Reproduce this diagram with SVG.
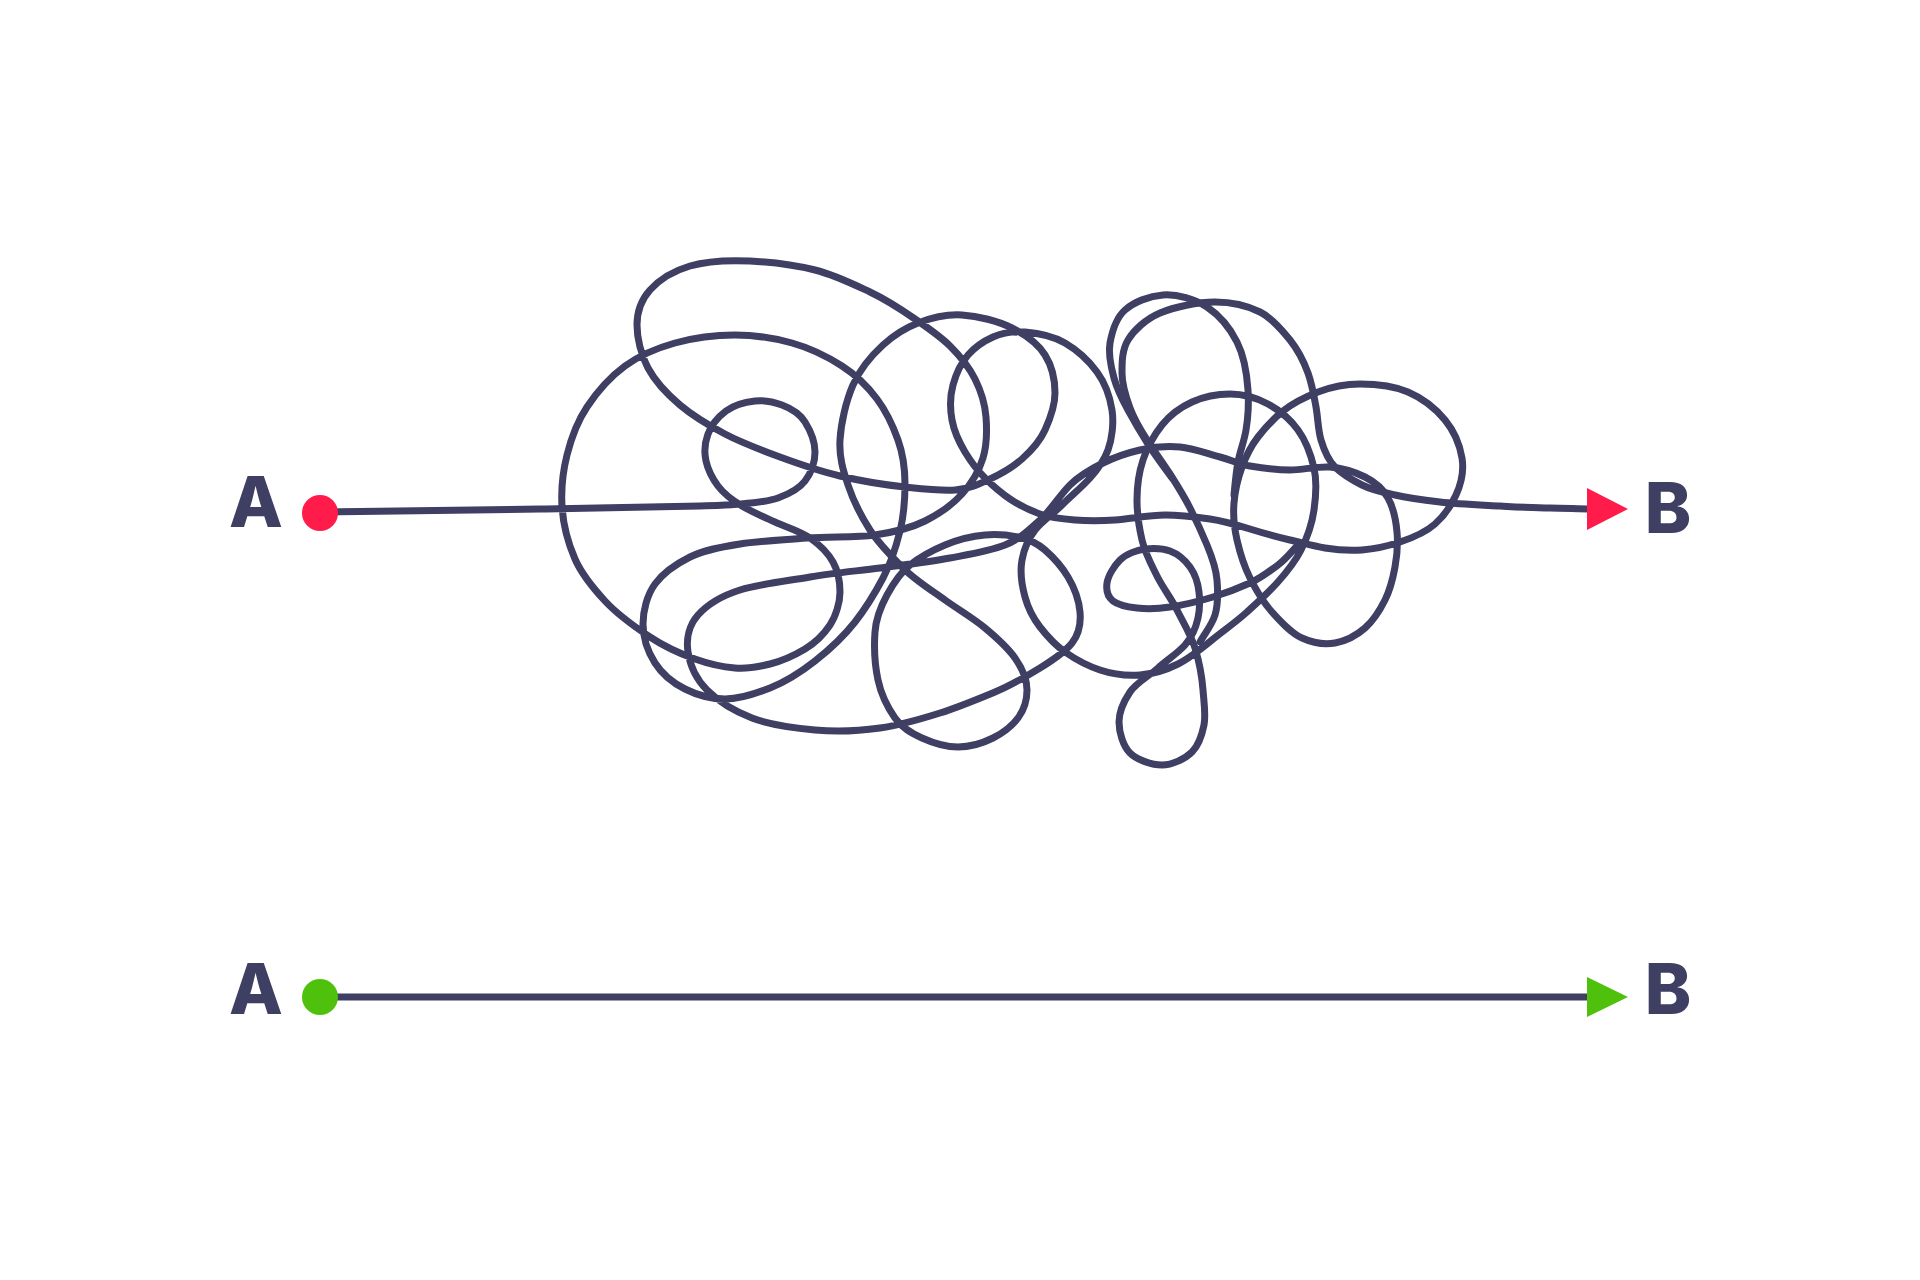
<svg xmlns="http://www.w3.org/2000/svg" width="1920" height="1280" viewBox="0 0 1920 1280">
<style>
.bg{fill:#ffffff}
.lbl{font-family:Inter,"Liberation Sans",sans-serif;font-weight:800;font-size:70px;fill:#3f3e63;text-anchor:middle}
.wire{fill:none;stroke:#3f3e63;stroke-width:7;stroke-linecap:round;stroke-linejoin:round}
.red{fill:#ff1c4a}
.green{fill:#4fc10d}
</style>
<rect class="bg" x="0" y="0" width="1920" height="1280"/>
<g id="connectors">
<path id="tangle" class="wire" d="M320,512 C393,511 477,510 540,509 S667,507 700,506 S727,505 740,504 S767,502 778,498 S799,489 805,481 S815,462 815,452 S810,430 805,422 S790,408 782,405 S764,400 755,401 S734,405 726,411 S711,426 708,434 S704,452 706,461 S712,478 718,486 S732,500 742,506 S764,517 775,522 S800,531 810,538 S828,553 833,562 S840,582 840,592 S836,616 830,625 S815,643 805,649 S782,661 770,664 S747,669 735,668 S709,664 695,659 S665,647 650,637 S617,614 605,601 S582,575 575,559 S563,523 562,506 S563,471 567,455 S577,422 587,407 S610,377 625,366 S657,348 675,343 S716,335 735,335 S774,338 792,343 S828,357 842,366 S868,387 877,399 S893,426 898,440 S905,469 905,484 S904,515 900,531 S891,563 883,578 S866,608 855,622 S829,650 815,661 S785,682 770,688 S739,699 725,699 S697,695 685,689 S662,674 655,663 S643,637 643,624 S647,595 655,584 S676,564 690,557 S721,547 740,544 S785,540 807,538 S855,538 875,535 S911,528 925,521 S952,505 962,494 S979,471 983,458 S987,430 986,417 S981,391 975,379 S960,356 950,346 S928,328 915,319 S887,300 870,292 S835,275 815,270 S771,262 750,261 S707,261 690,266 S659,280 650,290 S637,312 637,325 S641,355 648,368 S667,394 680,405 S708,425 725,434 S761,450 780,457 S819,471 840,476 S886,485 905,487 S941,491 955,490 S979,484 990,479 S1013,467 1022,459 S1040,441 1045,430 S1055,406 1055,393 S1052,366 1045,355 S1026,335 1012,328 S978,316 962,315 S931,318 918,323 S894,335 883,345 S860,369 853,385 S841,423 840,440 S843,470 848,485 S861,516 870,530 S891,556 903,568 S931,590 945,600 S973,618 985,628 S1008,648 1015,658 S1027,680 1027,690 S1024,710 1018,718 S1003,733 993,738 S970,747 958,747 S933,743 922,738 S902,728 895,718 S881,694 878,680 S874,646 875,632 S881,606 887,595 S900,573 910,565 S933,550 945,545 S973,536 985,535 S1008,535 1018,537 S1037,543 1045,550 S1062,567 1068,577 S1079,601 1080,612 S1079,634 1072,643 S1053,660 1040,668 S1012,685 995,692 S959,707 940,713 S901,725 880,728 S836,732 815,730 S770,725 752,718 S718,701 707,690 S690,665 688,652 S689,625 698,615 S721,596 740,590 S787,581 810,577 S857,571 880,568 S929,562 950,558 S990,551 1005,545 S1029,530 1040,520 S1060,495 1070,485 S1091,469 1103,463 S1127,453 1140,450 S1167,446 1180,447 S1208,454 1220,457 S1238,464 1250,466 S1277,470 1290,470 S1318,466 1330,467 S1355,472 1365,477 S1383,489 1388,498 S1396,521 1397,532 S1397,556 1395,567 S1390,590 1385,600 S1373,621 1365,628 S1346,641 1335,643 S1313,643 1302,638 S1281,622 1272,612 S1256,590 1250,578 S1240,553 1237,540 S1233,515 1234,503 S1238,478 1242,467 S1251,446 1258,437 S1273,419 1283,411 S1305,397 1318,392 S1345,384 1360,384 S1394,386 1408,392 S1436,409 1445,420 S1460,446 1462,458 S1461,484 1456,495 S1444,516 1435,524 S1412,538 1400,542 S1375,549 1362,550 S1337,550 1325,548 S1303,543 1290,540 S1263,533 1250,529 S1224,521 1210,519 S1181,515 1165,515 S1130,519 1115,520 S1088,521 1075,520 S1051,518 1040,514 S1019,505 1010,499 S993,486 985,478 S971,462 965,452 S954,431 952,420 S950,396 953,385 S961,363 968,355 S984,341 993,337 S1013,331 1025,332 S1053,336 1065,343 S1089,361 1097,372 S1110,397 1112,410 S1112,439 1108,450 S1098,469 1090,478 S1071,496 1062,505 S1042,521 1035,530 S1024,549 1022,560 S1022,586 1025,597 S1033,618 1040,627 S1055,645 1065,652 S1088,666 1100,670 S1127,676 1140,675 S1166,670 1178,664 S1201,649 1212,640 S1236,622 1247,612 S1268,593 1277,583 S1295,562 1301,550 S1312,524 1314,510 S1317,481 1314,468 S1306,441 1298,430 S1279,410 1268,404 S1243,394 1230,394 S1203,397 1192,402 S1170,415 1162,425 S1147,448 1143,460 S1137,487 1137,500 S1139,527 1142,540 S1151,564 1157,576 S1171,598 1177,610 S1191,635 1195,648 S1202,677 1203,690 S1206,715 1204,725 S1199,745 1192,752 S1172,765 1162,765 S1137,760 1130,753 S1119,732 1119,722 S1124,701 1130,692 S1149,676 1158,668 S1178,653 1185,645 S1196,627 1198,618 S1200,601 1199,592 S1195,574 1190,567 S1178,554 1170,551 S1153,548 1145,549 S1126,554 1120,560 S1108,576 1107,583 S1108,597 1113,601 S1128,607 1137,608 S1157,609 1170,607 S1200,601 1213,597 S1239,588 1250,583 S1270,571 1278,565 S1291,552 1298,545"/>
<path id="tangle-exit" class="wire" d="M1200,642 C1205,633 1212,625 1215,615 S1218,592 1217,580 S1212,557 1207,545 S1196,520 1190,508 S1177,485 1170,474 S1154,451 1147,440 S1134,419 1130,408 S1122,384 1122,373 S1122,350 1128,340 S1146,319 1160,313 S1198,302 1215,302 S1248,306 1260,312 S1282,330 1290,340 S1304,362 1308,373 S1314,396 1316,407 S1318,430 1321,440 S1328,460 1335,467 S1352,480 1362,485 S1382,492 1395,495 S1423,500 1440,502 S1482,505 1500,506 S1535,508 1550,508 S1578,509 1592,509"/>
<path id="tangle-loop" class="wire" d="M1172,478 C1164,467 1155,455 1148,444 S1134,421 1128,410 S1117,389 1114,378 S1108,354 1110,343 S1116,318 1125,310 S1149,296 1163,295 S1195,299 1207,307 S1230,328 1237,342 S1247,375 1248,390 S1248,418 1246,430 S1240,451 1238,462 S1235,484 1234,495"/>
<line id="direct" class="wire" x1="320" y1="997" x2="1592" y2="997"/>
</g>
<g id="node-a-top">
<text class="lbl" x="256" y="527">A</text>
<circle class="red" cx="320" cy="513" r="18"/>
</g>
<g id="node-b-top">
<polygon class="red" points="1587,488 1628,509 1587,530"/>
<text class="lbl" x="1668" y="533">B</text>
</g>
<g id="node-a-bottom">
<text class="lbl" x="256" y="1014">A</text>
<circle class="green" cx="320" cy="997" r="18"/>
</g>
<g id="node-b-bottom">
<polygon class="green" points="1587,977 1628,997 1587,1017"/>
<text class="lbl" x="1668" y="1014">B</text>
</g>
</svg>
